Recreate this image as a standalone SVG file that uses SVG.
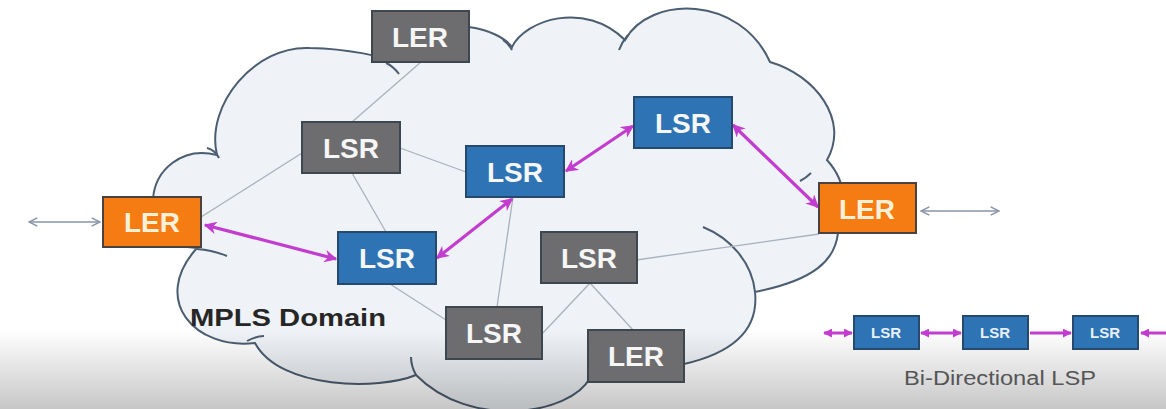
<svg xmlns="http://www.w3.org/2000/svg" width="1166" height="409" viewBox="0 0 1166 409">
<defs>
<linearGradient id="fade" x1="0" y1="0" x2="0" y2="1">
<stop offset="0" stop-color="#000" stop-opacity="0"/>
<stop offset="1" stop-color="#000" stop-opacity="0.22"/>
</linearGradient>
<marker id="mg" viewBox="0 0 10 10" refX="9" refY="5" markerWidth="4" markerHeight="4" orient="auto-start-reverse" markerUnits="strokeWidth">
<path d="M0,0 L10,5 L0,10 L3,5 Z" fill="#c23ccf"/>
</marker>
<marker id="mgs" viewBox="0 0 10 10" refX="9" refY="5" markerWidth="3" markerHeight="3" orient="auto-start-reverse" markerUnits="strokeWidth">
<path d="M0,0 L10,5 L0,10 Z" fill="#c23ccf"/>
</marker>
<marker id="ga" viewBox="0 0 10 10" refX="9" refY="5" markerWidth="8" markerHeight="8" orient="auto-start-reverse" markerUnits="strokeWidth">
<path d="M1,1 L9,5 L1,9" fill="none" stroke="#8794a8" stroke-width="1.4"/>
</marker>
</defs>
<style>
.cloud{fill:#eff2f6;stroke:#4b5d70;stroke-width:2}
.tick{fill:none;stroke:#4b5d70;stroke-width:2}
.link{stroke:#a9b2bc;stroke-width:1.3;fill:none}
.lsp{stroke:#c23ccf;stroke-width:3.2;fill:none;marker-start:url(#mg);marker-end:url(#mg)}
.ext{stroke:#8794a8;stroke-width:1.3;fill:none;marker-start:url(#ga);marker-end:url(#ga)}
.sm{stroke:#c23ccf;stroke-width:3;fill:none}
.gray rect{fill:#6d6d70;stroke:#3e4650;stroke-width:2}
.blue rect{fill:#2e74b5;stroke:#26496e;stroke-width:2}
.orange rect{fill:#f57c12;stroke:#4a4242;stroke-width:2}
.lbl{font-family:"Liberation Sans",Arial,sans-serif;font-weight:bold;font-size:28px;fill:#f6f6f6;text-anchor:middle}
.orange .lbl{fill:#fdf0d8}
.slbl{font-family:"Liberation Sans",Arial,sans-serif;font-weight:bold;font-size:15px;fill:#e8f0fa;text-anchor:middle}
.cap{font-family:"Liberation Sans",Arial,sans-serif}
</style>
<rect width="1166" height="409" fill="#ffffff"/>
<g id="cloud">
<path class="cloud" d="M153,199 C155,170 182,146 217,155 C205,105 255,45 310,48 C350,49 380,56 395,62 L430,40 L469,27 C490,30 505,38 512,47 C525,20 585,0 625,40 C650,-5 740,-5 770,62 C815,75 850,120 827,160 C845,180 845,200 840,215 L838,233 C835,260 815,280 755,292 C758,320 745,350 684,364 L640,372 L590,378 C570,415 470,430 416,375 C380,390 280,390 255,343 C195,350 150,300 197,248 L120,240 L120,210 Z"/>
<path class="tick" d="M207,148 Q215,150 219,158"/>
<path class="tick" d="M386,63 Q393,66 399,74"/>
<path class="tick" d="M503,40 Q509,44 512,50"/>
<path class="tick" d="M619,50 Q622,42 628,35"/>
<path class="tick" d="M811,173 Q806,178 800,181"/>
<path class="tick" d="M703,227 C730,238 752,262 755,292"/>
<path class="tick" d="M197,249 Q212,250 227,256"/>
<path class="tick" d="M247,341 Q256,336 264,336"/>
<path class="tick" d="M416,375 Q411,366 411,357"/>
</g>
<rect x="0" y="330" width="1166" height="79" fill="url(#fade)"/>
<g id="connectors">
<line class="link" x1="421" y1="62" x2="352" y2="122"/>
<line class="link" x1="302" y1="153" x2="201" y2="217"/>
<line class="link" x1="400" y1="148" x2="466" y2="172"/>
<line class="link" x1="352" y1="173" x2="386" y2="232"/>
<line class="link" x1="390" y1="284" x2="446" y2="320"/>
<line class="link" x1="513" y1="197" x2="497" y2="307"/>
<line class="link" x1="590" y1="283" x2="541" y2="335"/>
<line class="link" x1="590" y1="283" x2="633" y2="330"/>
<line class="link" x1="636" y1="260" x2="819" y2="234"/>
<line class="ext" x1="29" y1="222" x2="100" y2="222"/>
<line class="ext" x1="921" y1="211" x2="999" y2="211"/>
<line class="lsp" x1="205" y1="225" x2="336" y2="259"/>
<line class="lsp" x1="437" y1="258" x2="512" y2="199"/>
<line class="lsp" x1="566" y1="171" x2="633" y2="126"/>
<line class="lsp" x1="733" y1="125" x2="818" y2="207"/>
<line class="sm" x1="824" y1="333" x2="852" y2="333" style="marker-start:url(#mgs);marker-end:url(#mgs)"/>
<line class="sm" x1="921" y1="333" x2="961" y2="333" style="marker-start:url(#mgs);marker-end:url(#mgs)"/>
<line class="sm" x1="1030" y1="333" x2="1071" y2="333" style="marker-end:url(#mgs)"/>
<line class="sm" x1="1141" y1="333" x2="1166" y2="333" style="marker-start:url(#mgs)"/>
</g>
<g id="ler-top" class="gray"><rect x="372" y="11" width="97" height="51"/><text class="lbl" x="420" y="47">LER</text></g>
<g id="lsr-gray-1" class="gray"><rect x="302" y="122" width="98" height="51"/><text class="lbl" x="351" y="158">LSR</text></g>
<g id="lsr-blue-mid" class="blue"><rect x="466" y="146" width="98" height="51"/><text class="lbl" x="515" y="182">LSR</text></g>
<g id="lsr-blue-top" class="blue"><rect x="634" y="97" width="98" height="51"/><text class="lbl" x="683" y="133">LSR</text></g>
<g id="ler-left" class="orange"><rect x="103" y="197" width="98" height="50"/><text class="lbl" x="152" y="232">LER</text></g>
<g id="lsr-blue-low" class="blue"><rect x="338" y="232" width="98" height="52"/><text class="lbl" x="387" y="268">LSR</text></g>
<g id="lsr-gray-2" class="gray"><rect x="541" y="232" width="96" height="51"/><text class="lbl" x="589" y="268">LSR</text></g>
<g id="ler-right" class="orange"><rect x="819" y="183" width="97" height="50"/><text class="lbl" x="867" y="219">LER</text></g>
<g id="lsr-gray-3" class="gray"><rect x="446" y="307" width="96" height="52"/><text class="lbl" x="494" y="343">LSR</text></g>
<g id="ler-bottom" class="gray"><rect x="588" y="330" width="96" height="52"/><text class="lbl" x="636" y="366">LER</text></g>
<g id="strip-1" class="blue"><rect x="854" y="316" width="65" height="33"/><text class="slbl" x="886" y="338">LSR</text></g>
<g id="strip-2" class="blue"><rect x="963" y="316" width="65" height="33"/><text class="slbl" x="995" y="338">LSR</text></g>
<g id="strip-3" class="blue"><rect x="1073" y="316" width="65" height="33"/><text class="slbl" x="1105" y="338">LSR</text></g>
<text class="cap" x="190" y="326" font-size="24" font-weight="bold" fill="#262626" textLength="196" lengthAdjust="spacingAndGlyphs">MPLS Domain</text>
<text class="cap" x="904" y="385" font-size="20" fill="#555555" textLength="192" lengthAdjust="spacingAndGlyphs">Bi-Directional LSP</text>
</svg>
